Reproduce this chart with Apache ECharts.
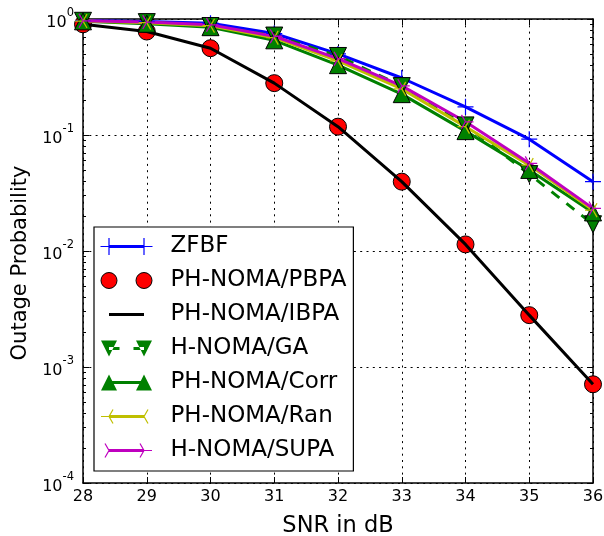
<!DOCTYPE html>
<html><head><meta charset="utf-8">
<script src="https://cdn.jsdelivr.net/npm/echarts@6/dist/echarts.min.js"></script>
<style>html,body{margin:0;padding:0;background:#fff}#c{width:604px;height:536px}</style>
</head><body><div id="c"></div>
<script>
// ---- data ----
const snr = [28, 29, 30, 31, 32, 33, 34, 35, 36];
const zfbf = [0.97, 0.95, 0.92, 0.75, 0.50, 0.31, 0.175, 0.092, 0.0396];
const phPBPA = [0.90, 0.78, 0.56, 0.28, 0.118, 0.0396, 0.0114, 0.0028, 0.00071];
const phIBPA = [0.90, 0.78, 0.56, 0.28, 0.118, 0.0396, 0.0114, 0.0028, 0.00071];
const hGA = [0.965, 0.94, 0.87, 0.72, 0.48, 0.264, 0.121, 0.046, 0.017];
const phCorr = [0.955, 0.91, 0.85, 0.655, 0.40, 0.225, 0.108, 0.050, 0.0215];
const phRan = [0.96, 0.93, 0.875, 0.69, 0.435, 0.25, 0.118, 0.055, 0.0225];
const hSUPA = [0.965, 0.94, 0.89, 0.71, 0.455, 0.265, 0.130, 0.057, 0.0233];
const seriesNames = ['ZFBF', 'PH-NOMA/PBPA', 'PH-NOMA/IBPA', 'H-NOMA/GA', 'PH-NOMA/Corr', 'PH-NOMA/Ran', 'H-NOMA/SUPA'];
const yMinorTicks = [];
[-4, -3, -2, -1].forEach(e => { for (let k = 2; k <= 9; k++) yMinorTicks.push(k * Math.pow(10, e)); });

// ---- shape helpers (symbol paths) ----
function seg(x1, y1, x2, y2, w) {
  const dx = x2 - x1, dy = y2 - y1, L = Math.hypot(dx, dy);
  const nx = -dy / L * w / 2, ny = dx / L * w / 2;
  const p = (a, b) => a.toFixed(2) + ',' + b.toFixed(2);
  return 'M' + p(x1 + nx, y1 + ny) + ' L' + p(x2 + nx, y2 + ny) + ' L' + p(x2 - nx, y2 - ny) + ' L' + p(x1 - nx, y1 - ny) + ' Z ';
}
function circ(cx, cy, r) {
  return 'M' + (cx - r) + ',' + cy + ' a' + r + ',' + r + ' 0 1,0 ' + (2 * r) + ',0 a' + r + ',' + r + ' 0 1,0 ' + (-2 * r) + ',0 Z ';
}
function triDown(cx, cy, s) { return 'M' + (cx - s / 2) + ',' + (cy - s / 2) + ' L' + (cx + s / 2) + ',' + (cy - s / 2) + ' L' + cx + ',' + (cy + s / 2) + ' Z '; }
function triUp(cx, cy, s) { return 'M' + (cx - s / 2) + ',' + (cy + s / 2) + ' L' + (cx + s / 2) + ',' + (cy + s / 2) + ' L' + cx + ',' + (cy - s / 2) + ' Z '; }
function plus(cx, cy, r, w) { return seg(cx - r, cy, cx + r, cy, w) + seg(cx, cy - r, cx, cy + r, w); }
function triSpokes(cx, cy, r, w, dir) {
  const a = dir === 'left' ? [180, 60, -60] : [0, 120, -120];
  return a.map(d => seg(cx, cy, cx + r * Math.cos(d * Math.PI / 180), cy - r * Math.sin(d * Math.PI / 180), w)).join('');
}
const BOX20 = 'M0,0 M20,20 ';
const plusSym = 'path://' + BOX20 + plus(10, 10, 10, 1.5);
const triLeftSym = 'path://' + BOX20 + triSpokes(10, 10, 10, 1.6, 'left');
const triRightSym = 'path://' + BOX20 + triSpokes(10, 10, 10, 1.6, 'right');

// legend icons: 65 x 17 box, markers at x=8.5 and 43.5
const LB = 'M0,0 M65,17 ';
const c1 = 8.5, c2 = 43.5, cy = 8.5;
const iconZFBF = 'path://' + LB + seg(c1, cy, c2, cy, 3) + plus(c1, cy, 8.5, 1.2) + plus(c2, cy, 8.5, 1.2);
const iconPBPA = 'path://' + LB + circ(c1, cy, 8) + circ(c2, cy, 8);
const iconIBPA = 'path://' + LB + seg(c1, cy, c2, cy, 3);
const iconGA = 'path://' + LB + seg(c1, cy, 19, cy, 3) + seg(33, cy, c2, cy, 3) + triDown(c1, cy, 16) + triDown(c2, cy, 16);
const iconCorr = 'path://' + LB + seg(c1, cy, c2, cy, 3) + triUp(c1, cy, 16) + triUp(c2, cy, 16);
const iconRan = 'path://' + LB + seg(c1, cy, c2, cy, 3) + triSpokes(c1, cy, 8, 1.2, 'left') + triSpokes(c2, cy, 8, 1.2, 'left');
const iconSUPA = 'path://' + LB + seg(c1, cy, c2, cy, 3) + triSpokes(c1, cy, 8, 1.2, 'right') + triSpokes(c2, cy, 8, 1.2, 'right');

const FONT = 'DejaVu Sans';
const pairs = arr => snr.map((x, i) => [x, arr[i]]);
const dotted = { color: '#000', width: 1, type: [2, 4.3] };

const majorTickStyle = { show: true, inside: true, length: 6, lineStyle: { color: '#000', width: 1 } };
const axisLineStyle = { show: true, onZero: false, lineStyle: { color: '#000', width: 1.5 } };

const option = {
  animation: false,
  backgroundColor: '#fff',
  grid: { left: 83, right: 11, top: 19, bottom: 53, containLabel: false, outerBoundsMode: 'none' },
  xAxis: [
    {
      type: 'value', min: 28, max: 36, interval: 1, position: 'bottom',
      axisLine: axisLineStyle, axisTick: majorTickStyle,
      splitLine: { show: true, lineStyle: dotted },
      axisLabel: { margin: 6, color: '#000', fontSize: 16, fontFamily: FONT },
      name: 'SNR in dB', nameLocation: 'middle', nameGap: 32,
      nameTextStyle: { fontSize: 22.5, fontFamily: FONT, color: '#000' }
    },
    {
      type: 'value', min: 28, max: 36, interval: 1, position: 'top',
      axisLine: axisLineStyle, axisTick: majorTickStyle,
      splitLine: { show: false }, axisLabel: { show: false }
    }
  ],
  yAxis: [
    {
      type: 'log', logBase: 10, min: 1e-4, max: 1, splitNumber: 4, position: 'left',
      axisLine: axisLineStyle, axisTick: majorTickStyle,
      splitLine: { show: true, lineStyle: dotted },
      axisLabel: {
        margin: 9, color: '#000', fontFamily: FONT,
        formatter: v => '{h|\u200b}{b|10}{s|' + Math.round(Math.log10(v)) + '}',
        rich: {
          h: { fontSize: 2, lineHeight: 24, width: 0 },
          b: { fontSize: 16, fontFamily: FONT, color: '#000', lineHeight: 16, verticalAlign: 'bottom' },
          s: { fontSize: 11.5, fontFamily: FONT, color: '#000', lineHeight: 12, verticalAlign: 'top' }
        }
      },
      name: 'Outage Probability', nameLocation: 'middle', nameGap: 51,
      nameTextStyle: { fontSize: 21, fontFamily: FONT, color: '#000', padding: [0, 24, 0, 0] }
    },
    {
      type: 'log', logBase: 10, min: 1e-4, max: 1, position: 'left',
      axisLine: { show: false, onZero: false },
      axisTick: { show: true, inside: true, length: 3, customValues: yMinorTicks, lineStyle: { color: '#000', width: 1 } },
      splitLine: { show: false }, axisLabel: { show: false }
    },
    {
      type: 'log', logBase: 10, min: 1e-4, max: 1, splitNumber: 4, position: 'right',
      axisLine: axisLineStyle, axisTick: majorTickStyle,
      splitLine: { show: false }, axisLabel: { show: false }
    },
    {
      type: 'log', logBase: 10, min: 1e-4, max: 1, position: 'right',
      axisLine: { show: false, onZero: false },
      axisTick: { show: true, inside: true, length: 3, customValues: yMinorTicks, lineStyle: { color: '#000', width: 1 } },
      splitLine: { show: false }, axisLabel: { show: false }
    }
  ],
  legend: {
    orient: 'vertical', left: 94, top: 227,
    padding: [8, 7, 9, 6], itemGap: 11,
    itemWidth: 65, itemHeight: 17,
    backgroundColor: '#fff', borderColor: '#000', borderWidth: 1.2, borderRadius: 0,
    textStyle: { fontSize: 23, fontFamily: FONT, color: '#000' },
    data: [
      { name: seriesNames[0], icon: iconZFBF, itemStyle: { color: '#0000ff', borderWidth: 0 } },
      { name: seriesNames[1], icon: iconPBPA, itemStyle: { color: '#ff0000', borderColor: '#000', borderWidth: 1 } },
      { name: seriesNames[2], icon: iconIBPA, itemStyle: { color: '#000', borderWidth: 0 } },
      { name: seriesNames[3], icon: iconGA, itemStyle: { color: '#008000', borderWidth: 0 } },
      { name: seriesNames[4], icon: iconCorr, itemStyle: { color: '#008000', borderWidth: 0 } },
      { name: seriesNames[5], icon: iconRan, itemStyle: { color: '#bfbf00', borderWidth: 0 } },
      { name: seriesNames[6], icon: iconSUPA, itemStyle: { color: '#bf00bf', borderWidth: 0 } }
    ]
  },
  series: [
    {
      name: seriesNames[0], type: 'line', data: pairs(zfbf), xAxisIndex: 0, yAxisIndex: 0,
      symbol: plusSym, symbolSize: 16, showAllSymbol: true,
      lineStyle: { color: '#0000ff', width: 3 }, itemStyle: { color: '#0000ff', borderWidth: 0 }
    },
    {
      name: seriesNames[1], type: 'scatter', data: pairs(phPBPA),
      symbol: 'circle', symbolSize: 17,
      itemStyle: { color: '#ff0000', borderColor: '#000', borderWidth: 1, opacity: 1 }
    },
    {
      name: seriesNames[2], type: 'line', data: pairs(phIBPA), symbol: 'none',
      lineStyle: { color: '#000', width: 3 }, itemStyle: { color: '#000' }
    },
    {
      name: seriesNames[3], type: 'line', data: pairs(hGA),
      symbol: 'triangle', symbolRotate: 180, symbolSize: 17, showAllSymbol: true,
      lineStyle: { color: '#008000', width: 3, type: [10, 9] },
      itemStyle: { color: '#008000', borderColor: '#000', borderWidth: 1 }
    },
    {
      name: seriesNames[4], type: 'line', data: pairs(phCorr),
      symbol: 'triangle', symbolSize: 17, showAllSymbol: true,
      lineStyle: { color: '#008000', width: 3 },
      itemStyle: { color: '#008000', borderColor: '#000', borderWidth: 1 }
    },
    {
      name: seriesNames[5], type: 'line', data: pairs(phRan),
      symbol: triLeftSym, symbolSize: 16, showAllSymbol: true,
      lineStyle: { color: '#bfbf00', width: 3 }, itemStyle: { color: '#bfbf00', borderWidth: 0 }
    },
    {
      name: seriesNames[6], type: 'line', data: pairs(hSUPA),
      symbol: triRightSym, symbolSize: 16, showAllSymbol: true,
      lineStyle: { color: '#bf00bf', width: 3 }, itemStyle: { color: '#bf00bf', borderWidth: 0 }
    }
  ]
};
const chart = echarts.init(document.getElementById('c'), null, { renderer: 'canvas' });
chart.setOption(option);
</script></body></html>
